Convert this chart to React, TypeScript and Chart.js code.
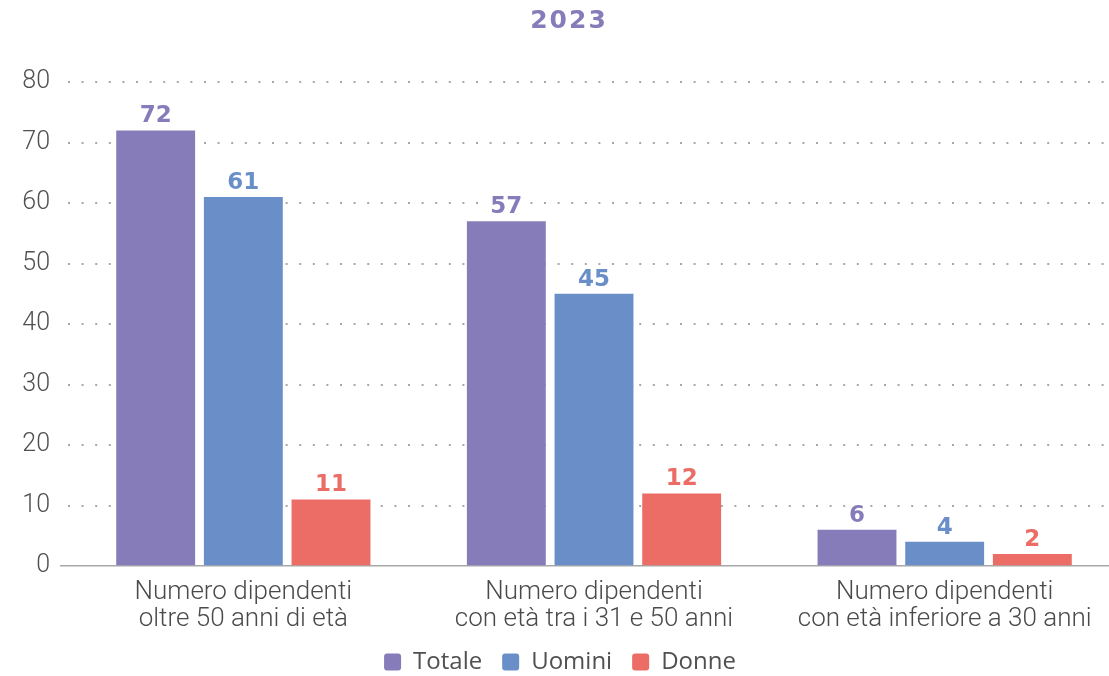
import React, { useEffect, useRef } from 'react';
import { Chart, registerables } from 'chart.js';

Chart.register(...registerables);

const chartTitle = '2023';
const categories: string[][] = [
  ['Numero dipendenti', 'oltre 50 anni di età'],
  ['Numero dipendenti', 'con età tra i 31 e 50 anni'],
  ['Numero dipendenti', 'con età inferiore a 30 anni'],
];
const seriesNames = ['Totale', 'Uomini', 'Donne'];
const totale = [72, 57, 6];
const uomini = [61, 45, 4];
const donne = [11, 12, 2];
const seriesColors = ['#857cb9', '#6a8fc8', '#ec6c66'];
const yMin = 0;
const yMax = 80;
const yStep = 10;

const titlePlugin = {
  id: 'customTitle',
  afterDraw(chart: any) {
    const ctx = chart.ctx;
    ctx.save();
    ctx.font = 'bold 25px "DejaVu Sans"';
    (ctx as any).letterSpacing = '2px';
    ctx.fillStyle = seriesColors[0];
    ctx.textAlign = 'center';
    ctx.textBaseline = 'middle';
    ctx.fillText(chartTitle, chart.width / 2 + 9, 21);
    ctx.restore();
  },
};

const valueLabelPlugin = {
  id: 'valueLabels',
  afterDatasetsDraw(chart: any) {
    const ctx = chart.ctx;
    ctx.save();
    ctx.font = 'bold 23px "DejaVu Sans"';
    ctx.textAlign = 'center';
    ctx.textBaseline = 'alphabetic';
    chart.data.datasets.forEach((ds: any, di: number) => {
      const meta = chart.getDatasetMeta(di);
      meta.data.forEach((bar: any, i: number) => {
        const text = String(ds.data[i]);
        const w = ctx.measureText(text).width;
        const y = bar.y - 8;
        ctx.fillStyle = '#ffffff';
        ctx.fillRect(bar.x - w / 2 - 3, y - 19, w + 6, 21);
        ctx.fillStyle = ds.backgroundColor;
        ctx.fillText(text, bar.x, y);
      });
    });
    ctx.restore();
  },
};

export default function App() {
  const canvasRef = useRef<HTMLCanvasElement | null>(null);

  useEffect(() => {
    if (!canvasRef.current) return;
    const isZero = (c: any) => c && c.tick && c.tick.value === 0;
    const chart = new Chart(canvasRef.current, {
      type: 'bar',
      data: {
        labels: categories,
        datasets: [
          { label: seriesNames[0], data: totale, backgroundColor: seriesColors[0] },
          { label: seriesNames[1], data: uomini, backgroundColor: seriesColors[1] },
          { label: seriesNames[2], data: donne, backgroundColor: seriesColors[2] },
        ],
      },
      options: {
        responsive: true,
        maintainAspectRatio: false,
        animation: false,
        datasets: {
          bar: { barPercentage: 0.9, categoryPercentage: 0.75, borderWidth: 0 },
        },
        layout: { padding: { top: 82, left: 0, right: 0, bottom: -8 } },
        plugins: {
          title: { display: false },
          tooltip: { enabled: false },
          legend: {
            position: 'bottom',
            labels: {
              boxWidth: 17,
              boxHeight: 17,
              useBorderRadius: true,
              borderRadius: 3,
              padding: 20,
              color: '#505050',
              font: { family: '"Open Sans"', size: 24 },
            },
          },
        },
        scales: {
          x: {
            grid: { display: false, drawTicks: false },
            border: { display: false },
            ticks: {
              color: '#4a4a4a',
              font: { family: 'Roboto', size: 26, weight: '300', lineHeight: 1.04 },
              padding: 13,
              maxRotation: 0,
              autoSkip: false,
            },
            afterFit: (s: any) => {
              s.height = 64;
            },
          },
          y: {
            min: yMin,
            max: yMax,
            ticks: {
              stepSize: yStep,
              padding: 10,
              color: '#505050',
              font: { family: 'Roboto', size: 25, weight: '300' },
            },
            grid: {
              color: '#a8a8a8',
              lineWidth: (c: any) => (isZero(c) ? 1.5 : 2),
              tickLength: 8,
              tickColor: (c: any) => (isZero(c) ? '#a8a8a8' : 'rgba(0,0,0,0)'),
              tickWidth: 1.5,
            },
            border: {
              display: false,
              dash: (c: any) => (isZero(c) ? [] : [2, 11.6]),
            },
            afterFit: (s: any) => {
              s.width = 68;
            },
          },
        },
      } as any,
      plugins: [titlePlugin, valueLabelPlugin],
    });
    return () => chart.destroy();
  }, []);

  return (
    <div
      style={{
        position: 'fixed',
        left: 0,
        top: 0,
        width: 1109,
        height: 676,
        overflow: 'hidden',
        background: '#ffffff',
      }}
    >
      <div style={{ position: 'relative', width: 1120, height: 676 }}>
        <canvas ref={canvasRef} />
      </div>
    </div>
  );
}
